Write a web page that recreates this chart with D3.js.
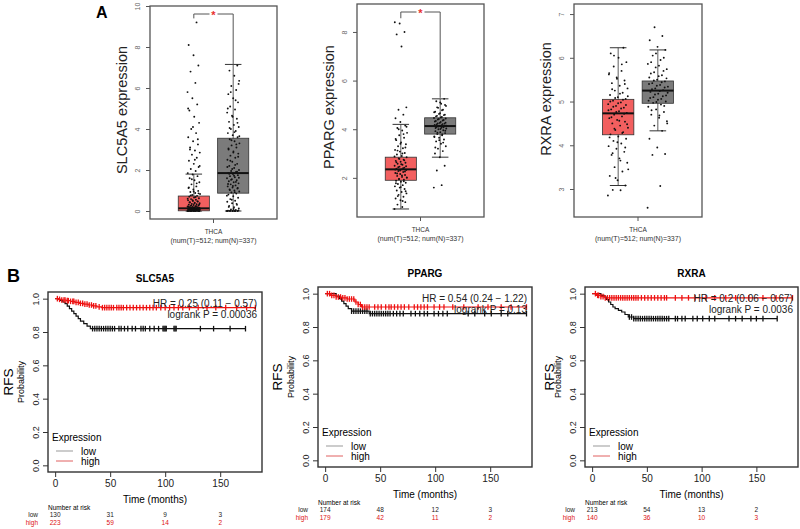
<!DOCTYPE html>
<html>
<head>
<meta charset="utf-8">
<script src="https://cdn.jsdelivr.net/npm/d3@7"></script>
<style>
  body { margin: 0; background: #fff; }
  svg { font-family: "Liberation Sans", Arial, sans-serif; }
</style>
</head>
<body>
<div id="chart"></div>
<script>
// ---------- Panel A data (expression, THCA tumor vs normal) ----------
const boxGenes = ["SLC5A5", "PPARG", "RXRA"];
const boxTicks = [[0, 2, 4, 6, 8, 10], [2, 4, 6, 8], [3, 4, 5, 6, 7]];
const boxSignif = [true, true, false];

// [lower whisker, q1, median, q3, upper whisker]
const slcTumorStats = [0, 0.01, 0.13, 0.73, 1.8];
const slcNormalStats = [0, 0.87, 1.85, 3.55, 7.15];
const pparTumorStats = [0.72, 1.9, 2.35, 2.85, 4.2];
const pparNormalStats = [2.85, 3.8, 4.13, 4.47, 5.25];
const rxraTumorStats = [3.08, 4.24, 4.73, 5.05, 6.23];
const rxraNormalStats = [4.33, 4.96, 5.25, 5.47, 6.18];

const slcTumorPts = [0,0,0,0,0,0,0.01,0.01,0.02,0.02,0.03,0.03,0.04,0.04,0.05,0.05,0.06,0.07,0.07,0.08,0.09,0.1,0.1,0.11,0.12,0.12,0.13,0.14,0.15,0.16,0.17,0.18,0.19,0.2,0.22,0.23,0.25,0.27,0.29,0.31,0.33,0.35,0.38,0.4,0.43,0.46,0.49,0.52,0.55,0.58,0.62,0.66,0.7,0.74,0.78,0.83,0.88,0.93,0.98,1.05,1.12,1.2,1.3,1.4,1.5,1.6,1.7,1.78,
  1.85,1.95,2.05,2.15,2.3,2.45,2.6,2.75,2.85,2.95,3.1,3.25,3.4,3.6,3.8,4.0,4.3,4.6,4.9,5.2,5.5,5.8,6.25,6.8,7.1,7.6,8.1,9.2,
  0,0,0.005,0.015,0.025,0.035,0.045,0.055,0.065,0.075,0.085,0.095,0.105,0.115,0.125,0.135,0.145,0.16,0.175,0.21,0.24,0.28,0.32,0.37,0.42,0.47,0.53,0.6,0.68,0.76,0.86,0.95,1.15,1.35,1.55,2.2,2.5,3.0,3.5,4.1,5.0];
const slcNormalPts = [0,0,0,0,0,0.02,0.05,0.08,0.12,0.18,0.25,0.3,0.38,0.45,0.5,0.58,0.65,0.72,0.8,0.85,0.9,0.95,1.0,1.05,1.1,1.15,1.2,1.25,1.3,1.35,1.4,1.45,1.5,1.55,1.6,1.65,1.7,1.75,1.8,1.85,1.9,1.95,2.0,2.1,2.2,2.3,2.4,2.5,2.6,2.7,2.8,2.9,3.0,3.1,3.2,3.3,3.4,3.5,3.6,3.7,3.8,3.9,4.0,4.1,4.2,4.35,4.5,4.65,4.8,4.95,5.1,5.3,5.5,5.7,5.9,6.1,6.35,6.6,6.85,7.1,
  0,0,0,0.01,0.03,0.1,0.2,0.35,0.55,0.75,0.92,1.02,1.12,1.22,1.32,1.42,1.52,1.62,1.72,1.82,1.92,2.05,2.15,2.25,2.45,2.65,2.85,3.05,3.25,3.45,3.65,3.85,4.05,4.3,4.6,5.0,5.4,5.8,6.2];
const pparTumorPts = [0.72,0.8,0.9,1.0,1.08,1.15,1.22,1.3,1.36,1.42,1.48,1.54,1.6,1.65,1.7,1.75,1.8,1.84,1.88,1.92,1.96,2.0,2.04,2.08,2.12,2.16,2.2,2.24,2.28,2.32,2.35,2.38,2.42,2.46,2.5,2.54,2.58,2.62,2.66,2.7,2.75,2.8,2.85,2.9,2.96,3.02,3.08,3.15,3.22,3.3,3.38,3.46,3.55,3.65,3.75,3.85,3.95,4.05,4.15,4.3,4.45,4.6,4.8,4.9,7.4,7.9,8.0,8.35,8.4,
  1.05,1.25,1.45,1.62,1.78,1.86,1.94,2.02,2.1,2.18,2.26,2.3,2.34,2.4,2.44,2.48,2.56,2.64,2.72,2.78,2.88,3.0,3.12,3.25,3.4,3.6,3.8,4.0,4.1];
const pparNormalPts = [1.6,1.7,2.3,2.5,2.85,3.0,3.1,3.2,3.3,3.4,3.5,3.58,3.65,3.7,3.75,3.8,3.84,3.88,3.92,3.96,4.0,4.03,4.06,4.09,4.12,4.15,4.18,4.21,4.24,4.27,4.3,4.34,4.38,4.42,4.46,4.5,4.55,4.6,4.66,4.72,4.8,4.88,4.96,5.05,5.15,5.25,
  3.55,3.68,3.78,3.86,3.94,4.01,4.05,4.08,4.11,4.14,4.17,4.2,4.23,4.26,4.32,4.36,4.4,4.44,4.48,4.53,4.58,4.63,4.7,4.78,4.9,5.0,5.1,3.25,3.45];
const rxraTumorPts = [2.85,2.97,2.98,3.08,3.2,3.3,3.4,3.5,3.6,3.7,3.78,3.85,3.92,3.98,4.04,4.1,4.15,4.2,4.25,4.3,4.35,4.4,4.45,4.5,4.54,4.58,4.62,4.66,4.7,4.74,4.78,4.82,4.86,4.9,4.94,4.98,5.02,5.06,5.1,5.15,5.2,5.25,5.3,5.36,5.42,5.48,5.55,5.62,5.7,5.8,5.9,6.0,6.1,6.23,
  3.25,3.45,3.65,3.82,3.95,4.07,4.18,4.28,4.38,4.48,4.56,4.64,4.72,4.76,4.8,4.84,4.88,4.92,4.96,5.0,5.04,5.08,5.12,5.18,5.28,5.4,5.52,5.65,5.85,6.05];
const rxraNormalPts = [2.57,3.07,3.78,3.8,3.95,4.15,4.33,4.45,4.55,4.63,4.7,4.76,4.82,4.88,4.93,4.97,5.0,5.04,5.08,5.12,5.16,5.2,5.24,5.28,5.32,5.36,5.4,5.44,5.48,5.53,5.58,5.64,5.7,5.78,5.86,5.95,6.05,6.18,6.25,6.4,6.5,6.7,
  4.5,4.68,4.8,4.9,4.99,5.02,5.06,5.1,5.14,5.18,5.22,5.26,5.3,5.34,5.38,5.42,5.46,5.5,5.55,5.6,5.67,5.74,5.82,5.9,6.0,6.1];

// ---------- Panel B data (Kaplan-Meier RFS) ----------
const kmGenes = ["SLC5A5", "PPARG", "RXRA"];
const kmHR = ["HR = 0.25 (0.11 \u2212 0.57)", "HR = 0.54 (0.24 \u2212 1.22)", "HR = 0.2 (0.06 \u2212 0.67)"];
const kmP = ["logrank P = 0.00036", "logrank P = 0.13", "logrank P = 0.0036"];
const riskTimes = [0, 50, 100, 150];
const yTicksKM = [0, 0.2, 0.4, 0.6, 0.8, 1.0];

const slcLowTime = [0, 4, 7, 9, 11, 13, 15, 17, 19, 21, 23, 26, 29, 32];
const slcLowSurv = [1, 0.99, 0.98, 0.97, 0.955, 0.94, 0.925, 0.91, 0.895, 0.88, 0.865, 0.85, 0.835, 0.82];
const slcLowCens = [34,36,38,40,42,44,46,48,50,52,54,58,60,63,66,70,73,78,80,82,86,90,94,98,99,100,101,108,109,110,132,144,159,173];
const slcHighTime = [0, 3, 6, 10, 14, 18, 22, 26, 30, 34, 38, 42];
const slcHighSurv = [1, 0.996, 0.992, 0.988, 0.984, 0.978, 0.972, 0.967, 0.962, 0.957, 0.951, 0.946];
const slcHighCens = [2,4,6,8,9,11,12,14,16,17,19,21,23,25,27,29,31,33,35,37,40,43,45,47,49,51,53,56,58,60,62,65,68,71,74,77,80,83,86,89,92,96,100,104,108,112,116,122,130,138,146,155,165,174,182];
const slcRiskLow = [130, 31, 9, 3];
const slcRiskHigh = [223, 59, 14, 2];

const pparLowTime = [0, 10, 13, 15, 17, 19, 21, 24, 40];
const pparLowSurv = [1, 0.985, 0.97, 0.955, 0.94, 0.925, 0.91, 0.895, 0.88];
const pparLowCens = [24,26,28,30,32,34,36,38,41,43,45,47,49,51,53,55,57,59,62,65,68,71,78,82,86,90,93,99,103,107,111,130,136,145,151,160,166,183];
const pparHighTime = [0, 5, 10, 15, 20, 27, 30, 33];
const pparHighSurv = [1, 0.99, 0.98, 0.975, 0.968, 0.95, 0.935, 0.92];
const pparHighCens = [2,4,6,8,10,12,14,16,18,20,22,24,26,28,30,32,34,36,38,40,45,48,51,55,58,60,63,66,69,72,76,81,84,87,90,93,99,104,108,116,126,139,148,160,169,183];
const pparRiskLow = [174, 48, 12, 3];
const pparRiskHigh = [179, 42, 11, 2];

const rxraLowTime = [0, 8, 11, 13, 15, 17, 19, 21, 24, 27, 30, 33, 38];
const rxraLowSurv = [1, 0.99, 0.98, 0.965, 0.95, 0.935, 0.92, 0.91, 0.9, 0.89, 0.875, 0.86, 0.85];
const rxraLowCens = [34,36,38,40,42,44,46,48,50,52,54,56,58,60,62,64,66,68,70,76,78,82,85,92,96,101,107,112,125,131,137,145,150,156,169];
const rxraHighTime = [0, 4, 8, 12];
const rxraHighSurv = [1, 0.99, 0.982, 0.975];
const rxraHighCens = [3,5,6,8,10,12,14,16,18,20,22,24,26,28,30,32,34,36,38,40,42,45,48,51,54,57,60,63,66,68,76,82,88,94,104,112,122,131,143,156,168,183];
const rxraRiskLow = [213, 54, 13, 2];
const rxraRiskHigh = [140, 36, 10, 3];

// ---------- layout ----------
const boxStats = [[slcTumorStats, slcNormalStats], [pparTumorStats, pparNormalStats], [rxraTumorStats, rxraNormalStats]];
const boxPts = [[slcTumorPts, slcNormalPts], [pparTumorPts, pparNormalPts], [rxraTumorPts, rxraNormalPts]];
const boxLayout = [
  {x: 150, y: 6, w: 127, h: 213, dom: [-0.39, 10], jit: 0.2, labelY: 110, bracketY: 8},
  {x: 357, y: 4, w: 127, h: 213, dom: [0.39, 9.15], jit: 0.2, labelY: 107, bracketY: 8},
  {x: 574, y: 4, w: 128, h: 213, dom: [2.36, 7.23], jit: 0.32, labelY: 99, bracketY: 8}
];
const boxFill = ["#f25f5f", "#7b7b7b"];

const kmData = [
  {low: [slcLowTime, slcLowSurv, slcLowCens], high: [slcHighTime, slcHighSurv, slcHighCens], risk: [slcRiskLow, slcRiskHigh]},
  {low: [pparLowTime, pparLowSurv, pparLowCens], high: [pparHighTime, pparHighSurv, pparHighCens], risk: [pparRiskLow, pparRiskHigh]},
  {low: [rxraLowTime, rxraLowSurv, rxraLowCens], high: [rxraHighTime, rxraHighSurv, rxraHighCens], risk: [rxraRiskLow, rxraRiskHigh]}
];
const kmLayout = [
  {x: 48, y: 292, w: 214, h: 180, rfs: -40},
  {x: 318, y: 287, w: 214, h: 180, rfs: -41},
  {x: 585, y: 287, w: 213, h: 180, rfs: -36}
];

const svg = d3.select("#chart").append("svg")
  .attr("width", 800)
  .attr("height", 529);

svg.append("text").attr("x", 96).attr("y", 18)
  .attr("font-size", 16).attr("font-weight", "bold").text("A");
svg.append("text").attr("x", 7).attr("y", 282)
  .attr("font-size", 18).attr("font-weight", "bold").text("B");

// deterministic horizontal spread for the dots
const spread = i => ((i * 0.618034) % 1) - 0.5;

function drawBox(i) {
  const L = boxLayout[i];
  const g = svg.append("g").attr("transform", `translate(${L.x},${L.y})`);
  const x = d3.scaleLinear().domain([-1, 1]).range([0, L.w]);
  const y = d3.scaleLinear().domain(L.dom).range([L.h, 0]);
  const pos = [-0.31, 0.31];
  const half = 0.245, cap = 0.13;

  // y axis
  const ya = g.append("g").call(d3.axisLeft(y).tickValues(boxTicks[i]).tickSize(4).tickFormat(d3.format("d")));
  ya.select(".domain").remove();
  ya.selectAll("line").attr("stroke", "#555");
  ya.selectAll("text")
    .attr("x", 0).attr("dy", 0)
    .attr("transform", "translate(-10,0) rotate(-90)")
    .attr("text-anchor", "middle")
    .attr("font-size", 7).attr("fill", "#666");

  g.append("text")
    .attr("transform", `translate(-23,${L.labelY - L.y}) rotate(-90)`)
    .attr("text-anchor", "middle")
    .attr("font-size", 14.5).attr("fill", "#222")
    .text(boxGenes[i] + " expression");

  // x tick + labels
  g.append("line").attr("x1", x(0)).attr("x2", x(0)).attr("y1", L.h).attr("y2", L.h + 4).attr("stroke", "#555");
  g.append("text").attr("x", x(0)).attr("y", L.h + 15).attr("text-anchor", "middle")
    .attr("font-size", 6.5).attr("fill", "#333").text("THCA");
  g.append("text").attr("x", x(0)).attr("y", L.h + 24).attr("text-anchor", "middle")
    .attr("font-size", 7).attr("fill", "#333").text("(num(T)=512; num(N)=337)");

  boxStats[i].forEach((s, k) => {
    const cx = pos[k];
    g.append("line").attr("x1", x(cx)).attr("x2", x(cx)).attr("y1", y(s[0])).attr("y2", y(s[4]))
      .attr("stroke", "#333").attr("stroke-width", 0.8);
    [s[0], s[4]].forEach(v => {
      g.append("line").attr("x1", x(cx - cap)).attr("x2", x(cx + cap)).attr("y1", y(v)).attr("y2", y(v))
        .attr("stroke", "#333").attr("stroke-width", 1);
    });
    g.append("rect")
      .attr("x", x(cx - half)).attr("width", x(cx + half) - x(cx - half))
      .attr("y", y(s[3])).attr("height", Math.max(1, y(s[1]) - y(s[3])))
      .attr("fill", boxFill[k]).attr("stroke", "#333").attr("stroke-width", 0.8);
    g.append("line").attr("x1", x(cx - half)).attr("x2", x(cx + half)).attr("y1", y(s[2])).attr("y2", y(s[2]))
      .attr("stroke", "#111").attr("stroke-width", 2);
  });

  boxPts[i].forEach((pts, k) => {
    g.append("g").selectAll("circle").data(pts).join("circle")
      .attr("cx", (d, j) => x(pos[k] + spread(j) * L.jit))
      .attr("cy", d => y(d))
      .attr("r", 0.95)
      .attr("fill", "#111");
  });

  if (boxSignif[i]) {
    const top = L.bracketY;
    const xl = x(pos[0]), xr = x(pos[1]);
    const yl = y(d3.max(boxPts[i][0])) - 4, yr = y(d3.max(boxPts[i][1])) - 1;
    g.append("path")
      .attr("d", `M${xl},${yl}V${top}H${xr}V${yr}`)
      .attr("fill", "none").attr("stroke", "#555").attr("stroke-width", 1);
    g.append("rect").attr("x", x(0) - 4).attr("y", top - 3).attr("width", 8).attr("height", 6).attr("fill", "#fff");
    g.append("text").attr("x", x(0)).attr("y", top + 5).attr("text-anchor", "middle")
      .attr("font-size", 11).attr("font-weight", "bold").attr("fill", "#e8302f").text("*");
  }

  g.append("rect").attr("width", L.w).attr("height", L.h)
    .attr("fill", "none").attr("stroke", "#555").attr("stroke-width", 1.3);
}

function survAt(times, surv, t) {
  return surv[Math.max(0, d3.bisectRight(times, t) - 1)];
}

function drawKM(i) {
  const L = kmLayout[i];
  const D = kmData[i];
  const g = svg.append("g").attr("transform", `translate(${L.x},${L.y})`);
  const x = d3.scaleLinear().domain([-6.5, 188]).range([0, L.w]);
  const y = d3.scaleLinear().domain([-0.04, 1.04]).range([L.h, 0]);

  g.append("text").attr("x", L.w / 2).attr("y", -10).attr("text-anchor", "middle")
    .attr("font-size", 10).attr("font-weight", "bold").text(kmGenes[i]);

  const xa = g.append("g").attr("transform", `translate(0,${L.h})`)
    .call(d3.axisBottom(x).tickValues(riskTimes).tickSize(5).tickPadding(3));
  xa.select(".domain").remove();
  xa.selectAll("text").attr("font-size", 10).attr("fill", "#222");
  xa.selectAll("line").attr("stroke", "#333");

  const ya = g.append("g").call(d3.axisLeft(y).tickValues(yTicksKM).tickSize(5).tickFormat(d3.format(".1f")));
  ya.select(".domain").remove();
  ya.selectAll("line").attr("stroke", "#333");
  ya.selectAll("text")
    .attr("x", 0).attr("dy", 0)
    .attr("transform", "translate(-9,0) rotate(-90)")
    .attr("text-anchor", "middle")
    .attr("font-size", 9).attr("fill", "#222");

  g.append("text").attr("transform", `translate(${L.rfs + 5},${L.h / 2}) rotate(-90)`)
    .attr("text-anchor", "middle").attr("font-size", 13.5).text("RFS");
  g.append("text").attr("transform", `translate(-24,${L.h / 2}) rotate(-90)`)
    .attr("text-anchor", "middle").attr("font-size", 9).text("Probability");

  g.append("text").attr("x", L.w / 2).attr("y", L.h + 31).attr("text-anchor", "middle")
    .attr("font-size", 10).text("Time (months)");

  const line = d3.line().curve(d3.curveStepAfter).x(d => x(d[0])).y(d => y(d[1]));
  [["low", "#111"], ["high", "#ee1111"]].forEach(([key, col]) => {
    const [T, S, C] = D[key];
    const end = Math.max(d3.max(C), T[T.length - 1]);
    const pts = T.map((t, k) => [t, S[k]]).concat([[end, S[S.length - 1]]]);
    g.append("path").datum(pts).attr("d", line)
      .attr("fill", "none").attr("stroke", col).attr("stroke-width", 1.2);
    g.append("g").selectAll("line").data(C).join("line")
      .attr("x1", d => x(d)).attr("x2", d => x(d))
      .attr("y1", d => y(survAt(T, S, d)) - 2.8)
      .attr("y2", d => y(survAt(T, S, d)) + 2.8)
      .attr("stroke", col).attr("stroke-width", 1.3);
  });

  g.append("text").attr("x", L.w - 5).attr("y", 14.5).attr("text-anchor", "end")
    .attr("font-size", 10).attr("fill", "#222").text(kmHR[i]);
  g.append("text").attr("x", L.w - 5).attr("y", 25.5).attr("text-anchor", "end")
    .attr("font-size", 10).attr("fill", "#222").text(kmP[i]);

  // legend
  g.append("text").attr("x", 4).attr("y", L.h - 31).attr("font-size", 10).text("Expression");
  [["low", "#999", L.h - 21], ["high", "#e06060", L.h - 11]].forEach(([lab, col, yy]) => {
    g.append("line").attr("x1", 8).attr("x2", 25).attr("y1", yy).attr("y2", yy)
      .attr("stroke", col).attr("stroke-width", 1);
    g.append("text").attr("x", 33).attr("y", yy + 3.5).attr("font-size", 10).text(lab);
  });

  g.append("rect").attr("width", L.w).attr("height", L.h)
    .attr("fill", "none").attr("stroke", "#333").attr("stroke-width", 1.4);

  // number at risk
  g.append("text").attr("x", 0).attr("y", L.h + 37.5).attr("font-size", 6.5).text("Number at risk");
  [["low", "#222", 45], ["high", "#dd1111", 53]].forEach(([lab, col, dy], r) => {
    g.append("text").attr("x", -10).attr("y", L.h + dy).attr("text-anchor", "end")
      .attr("font-size", 6.5).attr("fill", col).text(lab);
    g.append("g").selectAll("text").data(D.risk[r]).join("text")
      .attr("x", (d, k) => x(riskTimes[k])).attr("y", L.h + dy)
      .attr("text-anchor", "middle").attr("font-size", 6.5).attr("fill", col)
      .text(d => d);
  });
}

[0, 1, 2].forEach(drawBox);
[0, 1, 2].forEach(drawKM);
</script>
</body>
</html>
